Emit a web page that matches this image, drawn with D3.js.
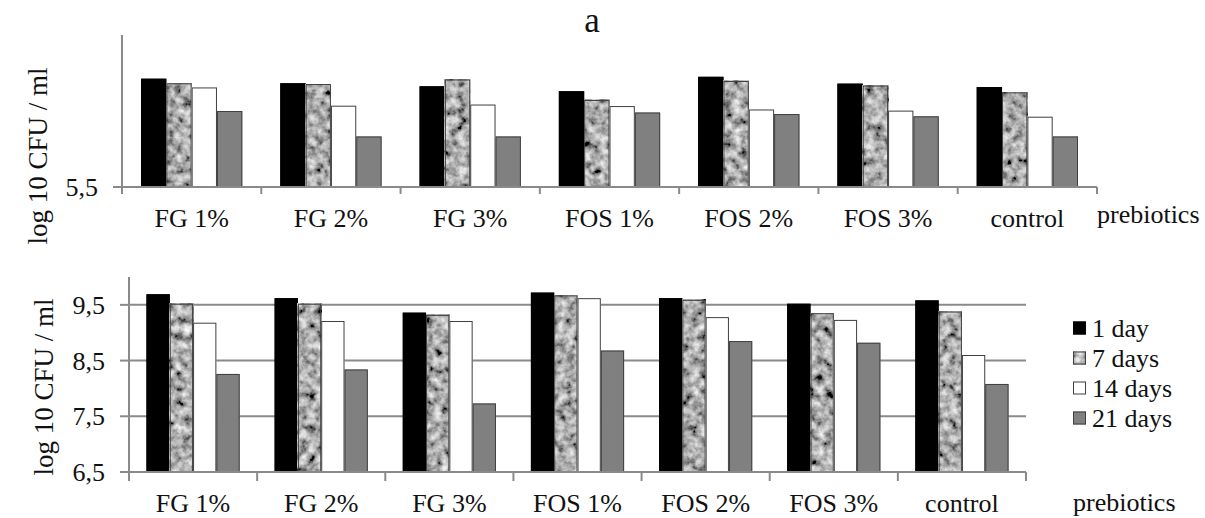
<!DOCTYPE html>
<html><head><meta charset="utf-8">
<script src="https://cdn.jsdelivr.net/npm/d3@7"></script>
<style>
html,body{margin:0;padding:0;background:#fff;}
svg text{font-family:"Liberation Serif","DejaVu Serif",serif;}
</style></head>
<body><svg id="c" width="1205" height="518" font-family="Liberation Serif, DejaVu Serif, serif"></svg>
<script>
const categories = ["FG 1%","FG 2%","FG 3%","FOS 1%","FOS 2%","FOS 3%","control"];
const seriesNames = ["1 day","7 days","14 days","21 days"];
// Panel a (top)
const topDay1  = [8.35, 8.23, 8.15, 8.02, 8.40, 8.22, 8.13];
const topDay7  = [8.23, 8.21, 8.33, 7.79, 8.29, 8.17, 7.99];
const topDay14 = [8.12, 7.64, 7.67, 7.63, 7.54, 7.51, 7.35];
const topDay21 = [7.50, 6.83, 6.83, 7.46, 7.42, 7.36, 6.83];
const topTicks = [5.5];
// Bottom panel
const botDay1  = [9.69, 9.62, 9.36, 9.72, 9.62, 9.52, 9.58];
const botDay7  = [9.52, 9.52, 9.32, 9.67, 9.59, 9.35, 9.38];
const botDay14 = [9.18, 9.21, 9.21, 9.62, 9.28, 9.23, 8.60];
const botDay21 = [8.26, 8.34, 7.73, 8.68, 8.85, 8.82, 8.08];
const botTicks = [6.5, 7.5, 8.5, 9.5];

const svg = d3.select("#c");
const FS = 26;
const FONT = "Liberation Serif, DejaVu Serif, serif";
const axisCol = "#8a8a8a";

const defs = svg.append("defs");
const f = defs.append("filter").attr("id","marble")
  .attr("filterUnits","objectBoundingBox").attr("x",0).attr("y",0).attr("width",1).attr("height",1);
f.append("feTurbulence").attr("type","fractalNoise").attr("baseFrequency","0.12")
  .attr("numOctaves",3).attr("seed",7).attr("result","n");
f.append("feColorMatrix").attr("in","n").attr("type","matrix")
  .attr("values","1.3 0.5 0 0 -0.48  1.3 0.5 0 0 -0.48  1.3 0.5 0 0 -0.48  0 0 0 0 1");

const fills = ["#000000", null, "#ffffff", "#808080"];
const strokes = ["#000000", "#404040", "#404040", "#404040"];

function txt(sel){ return sel.attr("font-family", FONT).attr("font-size", FS).attr("fill","#111"); }

function panel(opts){
  const {x0r, yDom, yRange, vals, ticks, grid, tickLen} = opts;
  const g = svg.append("g");
  const x0 = d3.scaleBand().domain(categories).range(x0r).paddingInner(0).paddingOuter(0);
  const x1 = d3.scaleBand().domain(seriesNames).range([0, x0.bandwidth()]).paddingInner(0).paddingOuter(0.75);
  const y = d3.scaleLinear().domain(yDom).range(yRange);

  if(grid){
    g.selectAll(".grid").data(ticks.slice(1)).join("line")
      .attr("x1", x0r[0]).attr("x2", x0r[1])
      .attr("y1", d=>y(d)).attr("y2", d=>y(d))
      .attr("stroke", axisCol).attr("stroke-width", 2);
  }
  seriesNames.forEach((s, si) => {
    const data = categories.map((c, ci) => ({c, v: vals[si][ci]}));
    const sel = g.selectAll(".b"+si).data(data).join("rect")
      .attr("x", d => x0(d.c) + x1(s))
      .attr("y", d => y(d.v))
      .attr("width", x1.bandwidth())
      .attr("height", d => y(yDom[0]) - y(d.v));
    if(fills[si]) sel.attr("fill", fills[si]);
    else sel.attr("fill","#999").attr("filter","url(#marble)");
    g.selectAll(".o"+si).data(data).join("rect")
      .attr("x", d => x0(d.c) + x1(s) + 0.5)
      .attr("y", d => y(d.v) + 0.5)
      .attr("width", x1.bandwidth() - 1)
      .attr("height", d => y(yDom[0]) - y(d.v) - 0.5)
      .attr("fill","none").attr("stroke", strokes[si]).attr("stroke-width",1);
  });
  g.append("line").attr("x1", x0r[0]).attr("x2", x0r[0])
    .attr("y1", yRange[1]).attr("y2", y(yDom[0]) + tickLen)
    .attr("stroke", axisCol).attr("stroke-width", 2);
  g.selectAll(".yt").data(ticks).join("line")
    .attr("x1", x0r[0] - 9).attr("x2", x0r[0])
    .attr("y1", d=>y(d)).attr("y2", d=>y(d))
    .attr("stroke", axisCol).attr("stroke-width", 2);
  txt(g.selectAll(".yl").data(ticks).join("text"))
    .attr("x", x0r[0] - 24).attr("y", d=>y(d)).attr("dy","0.35em")
    .attr("text-anchor","end")
    .text(d => d3.format(".1f")(d).replace(".", ","));
  g.append("line").attr("x1", x0r[0]).attr("x2", x0r[1])
    .attr("y1", y(yDom[0])).attr("y2", y(yDom[0]))
    .attr("stroke", axisCol).attr("stroke-width", 2);
  const bounds = categories.map(c => x0(c)).concat([x0r[1]]);
  g.selectAll(".xt").data(bounds).join("line")
    .attr("x1", d=>d).attr("x2", d=>d)
    .attr("y1", y(yDom[0])).attr("y2", y(yDom[0]) + tickLen)
    .attr("stroke", axisCol).attr("stroke-width", 2);
  txt(g.selectAll(".xl").data(categories).join("text"))
    .attr("x", d => x0(d) + x0.bandwidth()/2)
    .attr("y", opts.labelY)
    .attr("text-anchor","middle")
    .text(d=>d);
  txt(g.append("text")).attr("x", opts.prebX).attr("y", opts.prebY).text("prebiotics");
  txt(g.append("text"))
    .attr("transform", `translate(${opts.ylabX},${opts.ylabY}) rotate(-90)`)
    .attr("text-anchor","middle").attr("font-size", 27)
    .text("log 10 CFU / ml");
  return {x0, y};
}

panel({x0r:[122,1097], yDom:[5.5,9.5], yRange:[187,35],
  vals:[topDay1, topDay7, topDay14, topDay21], ticks: topTicks, grid:false, tickLen:7,
  labelY:227, prebX:1097, prebY:223, ylabX:47, ylabY:156});
panel({x0r:[129,1026], yDom:[6.5,10], yRange:[472,277],
  vals:[botDay1, botDay7, botDay14, botDay21], ticks: botTicks, grid:true, tickLen:9,
  labelY:512, prebX:1073, prebY:511, ylabX:53, ylabY:387});

txt(svg.append("text")).attr("x", 592).attr("y", 32).attr("text-anchor","middle")
  .attr("font-size", 35).text("a");

const lg = svg.append("g");
const rowY = d3.scalePoint().domain(seriesNames).range([328, 418]);
seriesNames.forEach((s, i) => {
  const r = lg.append("rect").attr("x", 1073).attr("y", rowY(s) - 6.5)
    .attr("width", 13).attr("height", 13);
  if(fills[i]) r.attr("fill", fills[i]); else r.attr("fill","#999").attr("filter","url(#marble)");
  lg.append("rect").attr("x", 1073.5).attr("y", rowY(s) - 6)
    .attr("width", 12).attr("height", 12).attr("fill","none")
    .attr("stroke", strokes[i]).attr("stroke-width",1);
  txt(lg.append("text")).attr("x", 1092).attr("y", rowY(s)).attr("dy","0.33em").text(s);
});
</script></body></html>
